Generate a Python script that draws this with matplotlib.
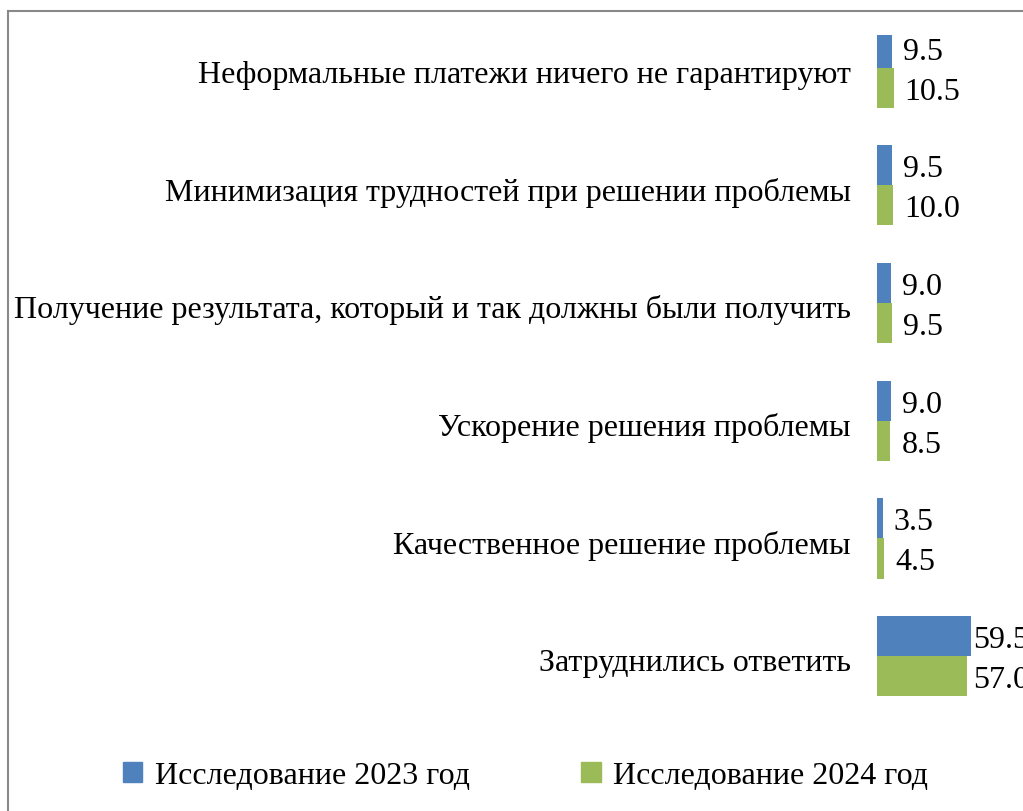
import numpy as np
import matplotlib.pyplot as plt
import matplotlib.transforms as mtransforms
from matplotlib.patches import Patch, Rectangle

plt.rcParams['font.family'] = ['Liberation Serif', 'DejaVu Serif']

# Survey data (share of respondents, %)
categories = [
    'Неформальные платежи ничего не гарантируют',
    'Минимизация трудностей при решении проблемы',
    'Получение результата, который и так должны были получить',
    'Ускорение решения проблемы',
    'Качественное решение проблемы',
    'Затруднились ответить',
]
values_2023 = [9.5, 9.5, 9.0, 9.0, 3.5, 59.5]
values_2024 = [10.5, 10.0, 9.5, 8.5, 4.5, 57.0]
series_names = ['Исследование 2023 год', 'Исследование 2024 год']

blue = '#4F81BD'
green = '#9BBB59'
fs = 23

W, H = 1023, 812
fig = plt.figure(figsize=(W / 100, H / 100), dpi=100)

# axes placed in pixel terms; right part runs off the canvas
ax_left, ax_top, ax_bottom = 877, 36, 716
step = 117.6  # pixels per category
ax = fig.add_axes([ax_left / W, 1 - ax_bottom / H, (W - ax_left) / W, (ax_bottom - ax_top) / H])

y = np.arange(len(categories))
h = 0.34
bars_a = ax.barh(y - h / 2, values_2023, height=h, color=blue)
bars_b = ax.barh(y + h / 2, values_2024, height=h, color=green)

ax.set_xlim(0, (W - ax_left) / 1.58)
ax.set_ylim(len(categories) - 0.5, -0.5 + (ax_top - 10) / step)
ax.set_yticks(y)
ax.set_yticklabels(categories, fontsize=fs)
ax.tick_params(axis='y', length=0, pad=19)
ax.set_xticks([])
for s in ax.spines.values():
    s.set_visible(False)

# nudge category labels down a little
shift = mtransforms.ScaledTranslation(0, -2 / 72, fig.dpi_scale_trans)
for lbl in ax.get_yticklabels():
    lbl.set_transform(lbl.get_transform() + shift)

# value labels; the long pair shares one column next to the longer bar
big = max(values_2023[-1], values_2024[-1])
for bars, vals in [(bars_a, values_2023), (bars_b, values_2024)]:
    for b, v in zip(bars, vals):
        if v > 50:
            x, off = big, 1.5
        else:
            x, off = v, 8
        ax.annotate(f'{v:.1f}', xy=(x, b.get_y() + b.get_height() / 2),
                    xytext=(off, -2.5), textcoords='offset points',
                    ha='left', va='center', fontsize=fs, annotation_clip=False)

# chart frame
fig.patches.append(Rectangle((8 / W, -0.1), 1.2, 1.1 - 12 / H, transform=fig.transFigure,
                             fill=False, edgecolor='#898989', linewidth=1.5))

handles = [Patch(color=blue), Patch(color=green)]
fig.legend(handles, series_names, loc='center', bbox_to_anchor=(525.5 / W, 1 - 777 / H),
           ncol=2, frameon=False, fontsize=fs, handlelength=0.6, handleheight=0.6,
           handletextpad=0.38, columnspacing=3.5)

fig.savefig('out.png', dpi=100)
